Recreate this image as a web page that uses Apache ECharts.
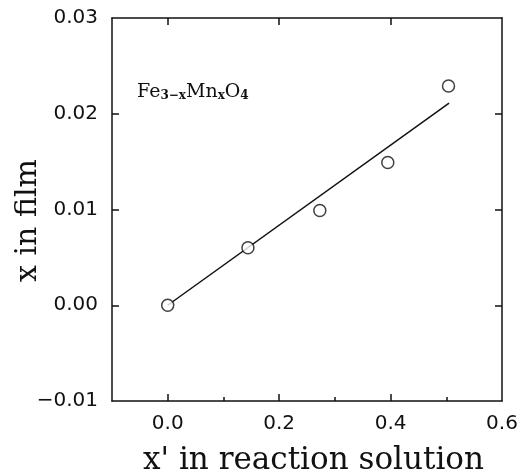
<!DOCTYPE html>
<html>
<head>
<meta charset="utf-8">
<script src="https://cdn.jsdelivr.net/npm/echarts@6/dist/echarts.min.js"></script>
<style>
  html, body { margin: 0; padding: 0; background: #fff; }
  #chart { width: 520px; height: 473px; }
</style>
</head>
<body>
<div id="chart"></div>
<script>
// measured points
const xData = [0.0, 0.144, 0.273, 0.395, 0.504];
const yData = [0.0, 0.006, 0.0099, 0.0149, 0.0229];
// fitted line end points
const fitX = [0.0, 0.505];
const fitY = [0.0, 0.0211];
// tick labels
const xTicks = [0.0, 0.2, 0.4, 0.6];
const xMajorTicks = [0.0, 0.2, 0.4];
const xMinorTicks = [0.1, 0.3, 0.5];
const yTicks = [-0.01, 0.0, 0.01, 0.02, 0.03];

const black = '#111';
const tickFont = 'DejaVu Sans';
const titleFont = 'DejaVu Serif';

const myChart = echarts.init(document.getElementById('chart'));

const fmtY = (v) => {
  const s = Math.abs(v) < 1e-9 ? '0.00' : v.toFixed(2);
  return s.replace('-', '\u2212');
};

const option = {
  animation: false,
  backgroundColor: '#fff',
  grid: {
    left: 112,
    right: 18,
    top: 18,
    bottom: 72,
    containLabel: false,
    outerBoundsMode: 'none',
  },
  xAxis: [
    {
      type: 'value',
      position: 'bottom',
      min: -0.1,
      max: 0.6,
      interval: 0.1,
      name: "x' in reaction solution",
      nameLocation: 'middle',
      nameGap: 44,
      nameMoveOverlap: false,
      nameTextStyle: {
        fontFamily: titleFont,
        fontSize: 31,
        color: black,
        padding: [0, 0, 0, 13],
      },
      axisLine: { show: true, onZero: false, lineStyle: { color: black, width: 1.5 } },
      axisTick: {
        show: true,
        inside: true,
        length: 7,
        customValues: xMajorTicks,
        lineStyle: { color: black, width: 1.5 },
      },
      axisLabel: {
        customValues: xTicks,
        formatter: (v) => v.toFixed(1),
        fontFamily: tickFont,
        fontSize: 20,
        color: black,
        margin: 13,
      },
      splitLine: { show: false },
    },
    {
      // minor ticks along the bottom
      type: 'value',
      position: 'bottom',
      min: -0.1,
      max: 0.6,
      interval: 0.1,
      axisLine: { show: false, onZero: false },
      axisTick: {
        show: true,
        inside: true,
        length: 4,
        customValues: xMinorTicks,
        lineStyle: { color: black, width: 1.5 },
      },
      axisLabel: { show: false },
      splitLine: { show: false },
    },
    {
      type: 'value',
      position: 'top',
      min: -0.1,
      max: 0.6,
      interval: 0.1,
      axisLine: { show: true, onZero: false, lineStyle: { color: black, width: 1.5 } },
      axisTick: {
        show: true,
        inside: true,
        length: 7,
        customValues: xMajorTicks,
        lineStyle: { color: black, width: 1.5 },
      },
      axisLabel: { show: false },
      splitLine: { show: false },
    },
  ],
  yAxis: [
    {
      type: 'value',
      position: 'left',
      min: -0.01,
      max: 0.03,
      interval: 0.01,
      name: 'x in film',
      nameLocation: 'middle',
      nameGap: 69,
      nameMoveOverlap: false,
      nameTextStyle: {
        fontFamily: titleFont,
        fontSize: 30,
        color: black,
        padding: [0, 22, 0, 0],
      },
      axisLine: { show: true, onZero: false, lineStyle: { color: black, width: 1.5 } },
      axisTick: {
        show: true,
        inside: true,
        length: 7,
        customValues: yTicks.slice(1, -1),
        lineStyle: { color: black, width: 1.5 },
      },
      axisLabel: {
        customValues: yTicks,
        formatter: fmtY,
        fontFamily: tickFont,
        fontSize: 20,
        color: black,
        margin: 14,
      },
      splitLine: { show: false },
    },
    {
      type: 'value',
      position: 'right',
      min: -0.01,
      max: 0.03,
      interval: 0.01,
      axisLine: { show: true, onZero: false, lineStyle: { color: black, width: 1.5 } },
      axisTick: {
        show: true,
        inside: true,
        length: 7,
        customValues: yTicks.slice(1, -1),
        lineStyle: { color: black, width: 1.5 },
      },
      axisLabel: { show: false },
      splitLine: { show: false },
    },
  ],
  graphic: [
    {
      type: 'text',
      left: 137,
      top: 83,
      style: {
        text: '{m|Fe}{s|3\u2212x}{m|Mn}{s|x}{m|O}{s|4}',
        rich: {
          m: { fontFamily: titleFont, fontSize: 19, lineHeight: 24, fill: black, verticalAlign: 'bottom' },
          s: { fontFamily: titleFont, fontSize: 12, fontWeight: 'bold', lineHeight: 10, fill: black, verticalAlign: 'bottom' },
        },
      },
    },
  ],
  series: [
    {
      name: 'fit',
      type: 'line',
      data: fitX.map((x, i) => [x, fitY[i]]),
      showSymbol: false,
      symbol: 'none',
      lineStyle: { color: black, width: 1.5 },
      z: 2,
    },
    {
      name: 'film',
      type: 'scatter',
      data: xData.map((x, i) => [x, yData[i]]),
      symbol: 'circle',
      symbolSize: 12,
      itemStyle: { color: '#fff', borderColor: black, borderWidth: 1.5 },
      z: 3,
    },
  ],
};

myChart.setOption(option);
</script>
</body>
</html>
